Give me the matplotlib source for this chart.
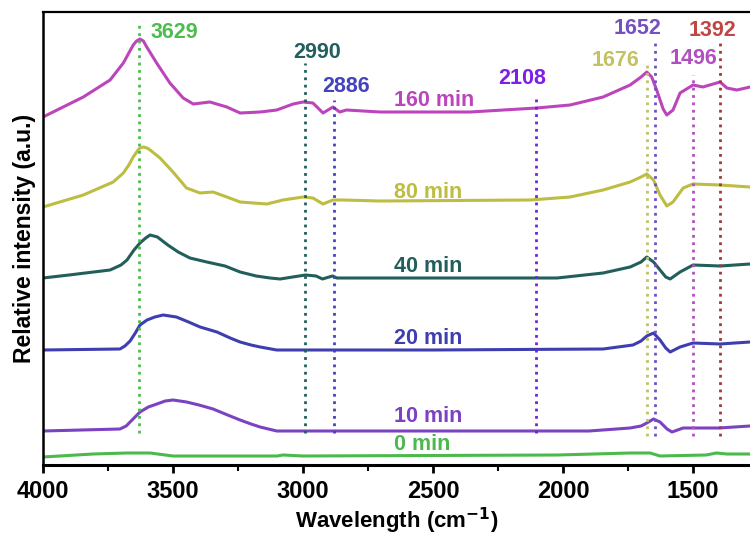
import matplotlib
matplotlib.use('Agg')
import matplotlib.pyplot as plt

plt.rcParams['font.family'] = ['Liberation Sans', 'DejaVu Sans']
plt.rcParams['font.weight'] = 'bold'

# spectra (wavenumber, offset intensity)
w0 = [4000, 3807, 3677, 3588, 3500, 3100, 3077, 3000, 2023, 1742, 1665, 1627, 1450, 1410, 1370, 1281]
y0 = [8, 11, 12, 12, 9, 9, 10, 9, 10, 12, 12, 9, 10, 12, 11, 11]

w10 = [4000, 3704, 3680, 3665, 3627, 3595, 3562, 3530, 3500, 3448, 3400, 3346, 3290, 3242, 3200,
       3165, 3101, 2500, 1900, 1742, 1700, 1678, 1652, 1627, 1600, 1581, 1538, 1500, 1400, 1281]
y10 = [34, 36, 39, 43, 53, 58, 61, 64, 65, 63, 60, 56, 50, 45, 41, 38, 34, 34, 34, 37, 39, 42, 46,
       43, 36, 33, 37, 37, 37, 39]

w20 = [4000, 3704, 3685, 3665, 3645, 3627, 3600, 3570, 3538, 3487, 3440, 3396, 3331, 3280, 3242,
       3200, 3165, 3101, 2500, 1846, 1731, 1700, 1678, 1652, 1627, 1605, 1588, 1550, 1500, 1396,
       1281]
y20 = [115, 116, 119, 124, 132, 140, 145, 148, 150, 148, 143, 138, 133, 127, 123, 120, 118, 115,
       115, 116, 120, 124, 129, 132, 125, 117, 113, 118, 122, 121, 123]

w40 = [4000, 3900, 3742, 3700, 3677, 3650, 3627, 3605, 3588, 3560, 3520, 3480, 3435, 3370, 3300,
       3242, 3180, 3127, 3088, 3040, 2990, 2950, 2925, 2900, 2886, 2870, 2742, 2023, 1846, 1742,
       1700, 1678, 1652, 1627, 1605, 1588, 1550, 1500, 1396, 1281]
y40 = [187, 190, 195, 200, 205, 215, 222, 227, 230, 228, 220, 213, 207, 203, 199, 193, 189, 187,
       186, 188, 190, 189, 186, 188, 189, 187, 187, 187, 192, 198, 203, 208, 203, 195, 188, 186,
       193, 200, 199, 201]

w80 = [4000, 3845, 3730, 3691, 3670, 3653, 3637, 3627, 3614, 3600, 3588, 3550, 3500, 3448, 3396,
       3346, 3293, 3242, 3139, 3077, 3000, 2962, 2923, 2885, 2846, 2704, 2127, 1973, 1846, 1742,
       1700, 1678, 1652, 1627, 1601, 1577, 1538, 1500, 1396, 1281]
y80 = [258, 270, 283, 292, 300, 308, 314, 317, 318, 317, 315, 307, 293, 277, 272, 273, 268, 263,
       261, 265, 268, 267, 261, 265, 265, 264, 265, 268, 275, 283, 288, 291, 285, 270, 259, 263,
       277, 281, 280, 278]

w160 = [4000, 3845, 3742, 3691, 3670, 3653, 3640, 3627, 3614, 3601, 3563, 3512, 3461, 3422, 3358,
        3293, 3242, 3165, 3101, 3038, 3000, 2962, 2923, 2885, 2859, 2833, 2704, 2358, 2101, 1973,
        1846, 1742, 1700, 1678, 1659, 1640, 1615, 1601, 1577, 1550, 1500, 1462, 1396, 1370, 1331,
        1281]
y160 = [348, 368, 385, 402, 412, 420, 424, 426, 424, 418, 402, 382, 367, 361, 363, 358, 352, 353,
        355, 361, 363, 362, 352, 358, 353, 355, 353, 353, 357, 360, 368, 380, 388, 393, 388, 375,
        356, 350, 355, 372, 380, 378, 383, 377, 375, 378]

series = [
    ('0 min', w0, y0, '#4CB94C', 20),
    ('10 min', w10, y10, '#7B42C2', 48),
    ('20 min', w20, y20, '#3E3EB0', 127),
    ('40 min', w40, y40, '#225E5A', 198),
    ('80 min', w80, y80, '#BDBD42', 273),
    ('160 min', w160, y160, '#BC45BC', 365),
]

# marked peaks: position, line top, label x, label y, colour
peaks = ['3629', '2990', '2886', '2108', '1676', '1652', '1496', '1392']
peak_pos = [3631, 2992, 2881, 2104, 1677, 1646, 1500, 1396]
peak_top = [442, 402, 365, 370, 403, 423, 390, 425]
peak_lx = [3588, 2946, 2835, 2158, 1800, 1712, 1500, 1427]
peak_ly = [432, 412, 379, 387, 404, 437, 406, 435]
peak_colors = ['#4DBB4D', '#235F5C', '#4343BE', '#7D1FE6', '#C2C263', '#7450C0', '#B24FC0', '#C04545']
line_colors = ['#4DBB4D', '#235F5C', '#4343BE', '#7A1FD8', '#C2C263', '#7050C0', '#B24FC0', '#A03A3A']

fig = plt.figure(figsize=(7.5, 5.37), dpi=100)
ax = fig.add_axes([43 / 750, 72 / 537, 1 - 43 / 750, 453 / 537])

for name, w, y, c, ly in series:
    ax.plot(w, y, color=c, lw=2.2)
    ax.text(2650, ly, name, color=c, fontsize=15.5, fontweight='bold', va='center', ha='left')

for i in range(len(peaks)):
    bottom = 32 if peak_pos[i] > 1700 else 29
    ax.plot([peak_pos[i], peak_pos[i]], [bottom, peak_top[i]], ':', color=line_colors[i], lw=2)
    ha = 'left' if i == 0 else 'center'
    ax.text(peak_lx[i], peak_ly[i], peaks[i], color=peak_colors[i], fontsize=15.5,
            fontweight='bold', ha=ha, va='center')

ax.set_xlim(4000, 1281)
ax.set_ylim(0, 453)
ax.set_xticks([4000, 3500, 3000, 2500, 2000, 1500])
ax.set_xticks([3750, 3250, 2750, 2250, 1750], minor=True)
ax.set_yticks([])
ax.tick_params(axis='x', which='major', length=6, width=2, labelsize=17, direction='out', pad=5)
ax.tick_params(axis='x', which='minor', length=4, width=1.5, direction='out')
for lab in ax.get_xticklabels():
    lab.set_fontweight('bold')
ax.spines['right'].set_visible(False)
ax.spines['bottom'].set_linewidth(2.2)
ax.spines['left'].set_linewidth(1.8)
ax.spines['top'].set_linewidth(1.6)

ax.set_xlabel('Wavelength (cm$^{\\mathbf{-1}}$)', fontsize=16, fontweight='bold', labelpad=2)
ax.set_ylabel('Relative intensity (a.u.)', fontsize=16.5, fontweight='bold', labelpad=5)

fig.savefig('out.png', dpi=100)
